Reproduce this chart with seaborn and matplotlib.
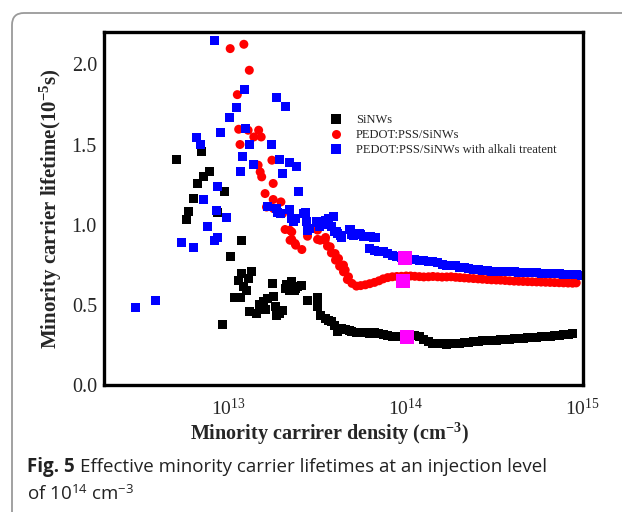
import numpy as np
import pandas as pd
import seaborn as sns
import matplotlib.pyplot as plt
from matplotlib.patches import FancyBboxPatch
from matplotlib.transforms import IdentityTransform
from matplotlib.ticker import LogLocator, MultipleLocator, NullFormatter

# --- data (density in 1e13 cm^-3, lifetime in 1e-5 s) ---
labels = ['SiNWs', 'PEDOT:PSS/SiNWs', 'PEDOT:PSS/SiNWs with alkali treatent']

sinw_density = [0.512, 0.583, 0.598, 0.637, 0.670, 0.710, 0.732, 0.786, 0.872, 0.927, 0.952,
                1.04, 1.09, 1.14, 1.17, 1.19, 1.20, 1.23, 1.27, 1.30, 1.32, 1.35, 1.44, 1.50,
                1.52, 1.58, 1.63, 1.68, 1.79, 1.80, 1.86, 1.88, 1.96, 2.03, 2.10, 2.15, 2.21,
                2.29, 2.37, 2.40, 2.47, 2.61, 2.81,
                3.20, 3.20, 3.34, 3.55, 3.70, 3.83, 4.00, 4.15, 4.37, 4.60, 4.84]
sinw_lifetime = [1.406, 1.032, 1.082, 1.163, 1.257, 1.456, 1.298, 1.329, 1.078, 0.380, 1.209,
                 0.804, 0.544, 0.654, 0.544, 0.899, 0.696, 0.612, 0.592, 0.665, 0.457, 0.706, 0.447, 0.500,
                 0.478, 0.519, 0.470, 0.540, 0.634, 0.550, 0.488, 0.436, 0.447, 0.467, 0.602, 0.630, 0.592,
                 0.644, 0.587, 0.600, 0.612, 0.623, 0.530,
                 0.544, 0.488, 0.436, 0.415, 0.400, 0.394, 0.370, 0.332, 0.353, 0.345, 0.343]

pedot_density = [1.03, 1.13, 1.15, 1.17, 1.23, 1.30, 1.32, 1.40, 1.48, 1.49, 1.52, 1.54, 1.55,
                 1.62, 1.65, 1.77, 1.80, 1.80, 1.81, 1.99, 2.03, 2.10, 2.23, 2.24, 2.29, 2.29,
                 2.39, 2.41, 2.61, 2.81, 3.20, 3.20, 3.31, 3.53, 3.55, 3.64, 3.77, 3.83, 4.02,
                 4.04, 4.20, 4.26, 4.48, 4.48, 4.58, 4.71, 4.78, 91.8]
pedot_lifetime = [2.098, 1.811, 1.595, 1.500, 2.125, 1.589, 1.963, 1.547, 1.371, 1.589, 1.329, 1.547, 1.298,
                  1.194, 1.110, 1.402, 1.257, 1.157, 1.100, 1.142, 1.069, 0.970, 0.966, 0.903, 0.908, 0.955,
                  0.883, 0.872, 0.845, 0.928, 0.966, 0.908, 0.903, 0.903, 0.920, 0.866, 0.862, 0.824, 0.820,
                  0.779, 0.789, 0.741, 0.748, 0.706, 0.717, 0.658, 0.675, 0.637]

alkali_density = [0.303, 0.390, 0.547, 0.637, 0.663, 0.702, 0.732, 0.766, 0.837, 0.845, 0.859, 0.872,
                  0.872, 0.913, 0.987, 1.02, 1.12, 1.18, 1.21, 1.24, 1.25, 1.32, 1.39, 1.68, 1.76,
                  1.88, 1.88, 1.91, 1.96, 1.97, 2.03, 2.10, 2.23, 2.23, 2.29, 2.34, 2.35, 2.39, 2.45,
                  2.49, 2.66, 2.74, 2.78, 2.81, 2.90, 3.17, 3.20, 3.30, 3.45, 3.55, 3.60, 3.69, 3.85,
                  3.94, 4.00, 4.11, 4.15, 4.29, 4.37, 4.84, 4.89, 5.10, 5.33, 5.50, 5.81, 5.94, 6.34,
                  6.60, 6.77, 92.7, 98.3]
alkali_lifetime = [0.484, 0.530, 0.887, 0.855, 1.543, 1.500, 1.159, 0.990, 0.903, 2.150, 1.090, 0.920,
                   1.240, 1.572, 1.045, 1.668, 1.728, 1.329, 1.423, 1.844, 1.599, 1.500, 1.375, 1.115, 1.500,
                   1.790, 1.100, 1.074, 1.406, 1.070, 1.319, 1.738, 1.094, 1.390, 1.040, 1.017, 1.028, 1.040, 1.360,
                   1.204, 1.070, 1.074, 1.017, 0.966, 0.976, 1.017, 1.011, 0.990, 1.017, 1.028, 1.000, 1.040, 0.986,
                   1.050, 0.960, 0.955, 0.945, 0.935, 0.920, 0.970, 0.970, 0.935, 0.945, 0.945, 0.928, 0.924, 0.924,
                   0.920, 0.920, 0.687, 0.686]

# dense high-injection part, all three samples read at the same densities
tail_density = [5.0, 5.3, 5.6, 5.95, 6.3, 6.7, 7.1, 7.5, 7.95, 8.45,
                8.95, 9.5, 10.1, 10.7, 11.3, 12.0, 12.7, 13.5, 14.3, 15.2,
                16.1, 17.1, 18.1, 19.2, 20.3, 21.5, 22.8, 24.2, 25.7, 27.2,
                28.9, 30.6, 32.5, 34.4, 36.5, 38.7, 41.0, 43.5, 46.1, 48.9,
                51.8, 54.9, 58.2, 61.7, 65.4, 69.3, 73.5, 77.9, 82.6, 87.5]
sinw_tail = [0.335, 0.326, 0.330, 0.325, 0.322, 0.330, 0.322, 0.318, 0.310, 0.305,
             0.305, 0.305, 0.310, 0.311, 0.310, 0.300, 0.285, 0.270, 0.262, 0.258,
             0.256, 0.255, 0.258, 0.262, 0.260, 0.265, 0.268, 0.270, 0.272, 0.275,
             0.277, 0.279, 0.280, 0.282, 0.284, 0.286, 0.288, 0.290, 0.292, 0.294,
             0.296, 0.298, 0.300, 0.302, 0.305, 0.307, 0.310, 0.313, 0.317, 0.320]
pedot_tail = [0.634, 0.617, 0.620, 0.625, 0.632, 0.640, 0.650, 0.662, 0.670, 0.675,
              0.677, 0.678, 0.680, 0.680, 0.678, 0.676, 0.674, 0.675, 0.677, 0.675,
              0.673, 0.674, 0.675, 0.672, 0.670, 0.668, 0.666, 0.664, 0.662, 0.660,
              0.658, 0.656, 0.655, 0.654, 0.652, 0.650, 0.648, 0.647, 0.646, 0.645,
              0.644, 0.643, 0.642, 0.641, 0.640, 0.639, 0.638, 0.637, 0.636, 0.635]
alkali_tail = [0.940, 0.945, 0.940, 0.925, 0.850, 0.840, 0.835, 0.830, 0.820, 0.810,
               0.800, 0.795, 0.790, 0.785, 0.780, 0.778, 0.775, 0.770, 0.768, 0.762,
               0.750, 0.745, 0.748, 0.745, 0.735, 0.730, 0.725, 0.720, 0.718, 0.715,
               0.712, 0.710, 0.709, 0.708, 0.707, 0.706, 0.705, 0.704, 0.703, 0.702,
               0.700, 0.699, 0.698, 0.697, 0.696, 0.695, 0.694, 0.692, 0.690, 0.688]

# highlighted points at ~1e14 cm^-3
marked_density = [10.0, 9.7, 10.2]
marked_lifetime = [0.795, 0.650, 0.300]

#%% build long-form table
parts = []
for lab, dens, life, tail in zip(labels,
                                 [sinw_density, pedot_density, alkali_density],
                                 [sinw_lifetime, pedot_lifetime, alkali_lifetime],
                                 [sinw_tail, pedot_tail, alkali_tail]):
    parts.append(pd.DataFrame({'density': np.array(dens + tail_density) * 1e13,
                               'lifetime': life + tail, 'sample': lab}))
df = pd.concat(parts, ignore_index=True)
df_marked = pd.DataFrame({'density': np.array(marked_density) * 1e13, 'lifetime': marked_lifetime})

#%% style
sns.set_style('white')
plt.rcParams['font.family'] = ['Liberation Serif', 'DejaVu Serif']
plt.rcParams['mathtext.fontset'] = 'custom'
plt.rcParams['mathtext.rm'] = 'Liberation Serif'
plt.rcParams['mathtext.bf'] = 'Liberation Serif:bold'
plt.rcParams['mathtext.sf'] = 'Open Sans'
plt.rcParams['mathtext.default'] = 'rm'

fig = plt.figure(figsize=(6.22, 5.12), dpi=100)
ax = fig.add_axes([0.167, 0.248, 0.770, 0.689])

palette = {labels[0]: '#000000', labels[1]: '#ff0000', labels[2]: '#0000ff'}
markers = {labels[0]: 's', labels[1]: 'o', labels[2]: 's'}
sns.scatterplot(data=df, x='density', y='lifetime', hue='sample', style='sample',
                palette=palette, markers=markers, s=42, linewidth=0, ax=ax)
sns.scatterplot(data=df_marked, x='density', y='lifetime', marker='s', color='#ff00ff',
                s=95, linewidth=0, legend=False, zorder=4, ax=ax)

ax.set_xscale('log')
ax.set_xlim(2e12, 1e15)
ax.set_ylim(0, 2.2)

ax.set_xticks([1e13, 1e14, 1e15])
ax.set_xticklabels(['$10^{13}$', '$10^{14}$', '$10^{15}$'])
ax.xaxis.set_minor_locator(LogLocator(base=10, subs=np.arange(2, 10)))
ax.xaxis.set_minor_formatter(NullFormatter())
ax.set_yticks([0, 0.5, 1.0, 1.5, 2.0])
ax.set_yticklabels(['0.0', '0.5', '1.0', '1.5', '2.0'])
ax.yaxis.set_minor_locator(MultipleLocator(0.25))

ax.tick_params(which='both', direction='in', top=False, right=False, color='black')
ax.tick_params(axis='y', labelsize=14.5, pad=5)
ax.tick_params(axis='x', labelsize=14, pad=9)
ax.tick_params(which='major', length=6, width=2)
ax.tick_params(which='minor', length=3.5, width=2)
for sp in ax.spines.values():
    sp.set_linewidth(2.4)
    sp.set_color('black')

ax.set_xlabel(r'Minority carrirer density (cm$^{\mathbf{-3}}$)', fontsize=14.5, fontweight='bold')
ax.set_ylabel(r'Minority carrier lifetime(10$^{\mathbf{-5}}$s)', fontsize=15, fontweight='bold')
ax.xaxis.set_label_coords(0.472, -0.10)
ax.yaxis.set_label_coords(-0.0835, 0.5)

handles, labs = ax.get_legend_handles_labels()
ax.legend(handles=handles, labels=labs, loc='upper left', bbox_to_anchor=(0.435, 0.80),
          frameon=False, fontsize=9, labelspacing=0.25, handletextpad=0.6, handlelength=2.0,
          borderpad=0.4)

# caption and panel frame
t = fig.text(27 / 622, 0.078, 'Fig. 5', fontsize=13.5, fontweight='bold', family='Open Sans',
             color='#222222', va='baseline')
fig.canvas.draw()
bb = t.get_window_extent()
fig.text((bb.x1 + 5) / 622, 0.078, 'Effective minority carrier lifetimes at an injection level',
         fontsize=13.5, family='Open Sans', color='#222222', va='baseline')
fig.text(27 / 622, 0.024, r'of 10$^{\mathsf{14}}$ cm$^{\mathsf{-3}}$', fontsize=13.5,
         family='Open Sans', color='#222222', va='baseline')

frame = FancyBboxPatch((12, -60), 700, 559, boxstyle='round,pad=0,rounding_size=12',
                       transform=IdentityTransform(), fill=False, edgecolor='#9a9a9a',
                       linewidth=1.3, clip_on=False)
fig.add_artist(frame)

fig.savefig('out.png', dpi=100)
